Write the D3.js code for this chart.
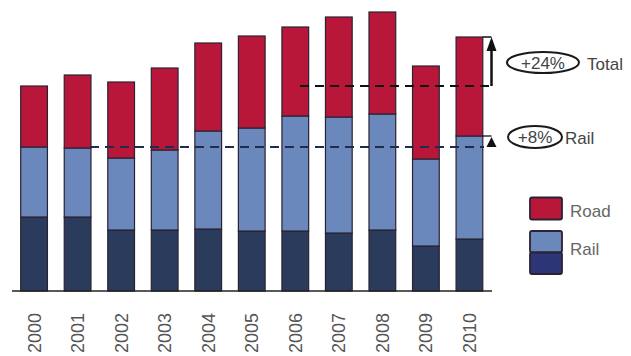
<!DOCTYPE html>
<html>
<head>
<meta charset="utf-8">
<script src="https://cdn.jsdelivr.net/npm/d3@7"></script>
<style>
  html, body { margin: 0; padding: 0; background: #fff; }
  svg { display: block; font-family: "Liberation Sans", Arial, sans-serif; }
</style>
</head>
<body>
<svg id="chart" width="631" height="356"></svg>
<script>
// Freight volumes by year, stacked: two rail components and road
const years     = ["2000","2001","2002","2003","2004","2005","2006","2007","2008","2009","2010"];
const railDark  = [74, 74, 61, 61, 62, 60, 60, 58, 61, 45, 52];
const railLight = [70, 69, 72, 80, 98, 103, 115, 116, 116, 87, 103];
const road      = [61, 73, 76, 82, 88, 92, 89, 100, 102, 93, 99];

const colors = { railDark: "#2b3b5c", railLight: "#6b88bd", road: "#b8173a" };
const strokeCol = "#2a2233";

const svg = d3.select("#chart");

const rows = years.map((y, i) => ({ year: y, railDark: railDark[i], railLight: railLight[i], road: road[i] }));
const keys = ["railDark", "railLight", "road"];
const series = d3.stack().keys(keys)(rows);

const x = d3.scaleBand().domain(years).range([12, 491.5]).paddingInner(0.386).paddingOuter(0.2);
const y = d3.scaleLinear().domain([0, 280]).range([291, 11]);

// stacked bars
svg.append("g").selectAll("g").data(series).join("g")
  .attr("fill", d => colors[d.key])
  .selectAll("rect").data(d => d).join("rect")
  .attr("x", d => x(d.data.year))
  .attr("width", x.bandwidth())
  .attr("y", d => y(d[1]))
  .attr("height", d => y(d[0]) - y(d[1]))
  .attr("stroke", strokeCol)
  .attr("stroke-width", 1.2);

// baseline
svg.append("line")
  .attr("x1", 12).attr("x2", 492)
  .attr("y1", y(0)).attr("y2", y(0))
  .attr("stroke", "#222").attr("stroke-width", 1.5);

// year labels, rotated
const xAxis = d3.axisBottom(x).tickSize(0).tickPadding(0);
const ax = svg.append("g").attr("transform", `translate(0,${y(0)})`).call(xAxis);
ax.select(".domain").remove();
ax.selectAll("text")
  .attr("transform", "rotate(-90)")
  .attr("x", -22).attr("y", 0).attr("dy", "0.36em")
  .attr("text-anchor", "end")
  .attr("fill", "#555")
  .style("font-size", "18px");

// reference levels and growth annotations
const n = years.length - 1;
const total = i => railDark[i] + railLight[i] + road[i];
const rail = i => railDark[i] + railLight[i];
const barRight = x(years[n]) + x.bandwidth();
const arrowX = 491.5;

// total: dashed level of first year and arrow up to last year
svg.append("line")
  .attr("x1", 300).attr("x2", arrowX)
  .attr("y1", y(total(0))).attr("y2", y(total(0)))
  .attr("stroke", "#111").attr("stroke-width", 1.8).attr("stroke-dasharray", "9,6");
svg.append("line")
  .attr("x1", barRight).attr("x2", arrowX)
  .attr("y1", y(total(n))).attr("y2", y(total(n)))
  .attr("stroke", "#111").attr("stroke-width", 1.5);
svg.append("line")
  .attr("x1", arrowX).attr("x2", arrowX)
  .attr("y1", y(total(0))).attr("y2", y(total(n)) + 6)
  .attr("stroke", "#111").attr("stroke-width", 2.5);
svg.append("path")
  .attr("d", `M${arrowX},${y(total(n))} L${arrowX - 5},${y(total(n)) + 14} L${arrowX + 5},${y(total(n)) + 14} Z`)
  .attr("fill", "#111");

// rail: dashed level of first year and arrow up to last year
svg.append("line")
  .attr("x1", 90).attr("x2", 484)
  .attr("y1", y(rail(0))).attr("y2", y(rail(0)))
  .attr("stroke", "#1e2c50").attr("stroke-width", 1.8).attr("stroke-dasharray", "9,6");
svg.append("line")
  .attr("x1", barRight).attr("x2", arrowX)
  .attr("y1", y(rail(n))).attr("y2", y(rail(n)))
  .attr("stroke", "#111").attr("stroke-width", 1.3);
svg.append("path")
  .attr("d", `M${arrowX},${y(rail(n)) + 1} L${arrowX - 5},${y(rail(0))} L${arrowX + 5},${y(rail(0))} Z`)
  .attr("fill", "#111");

const pct = (a, b) => "+" + Math.round((a / b - 1) * 100) + "%";

function bubble(cx, cy, rx, ry, label, name, nameX) {
  svg.append("ellipse")
    .attr("cx", cx).attr("cy", cy).attr("rx", rx).attr("ry", ry)
    .attr("fill", "#fff").attr("stroke", "#1a1a1a").attr("stroke-width", 2);
  svg.append("text")
    .attr("x", cx).attr("y", cy).attr("dy", "0.36em")
    .attr("text-anchor", "middle").attr("fill", "#444")
    .style("font-size", "17px").text(label);
  svg.append("text")
    .attr("x", nameX).attr("y", cy + 1).attr("dy", "0.36em")
    .attr("fill", "#444").style("font-size", "17px").text(name);
}
bubble(543, 62.5, 36, 10.5, pct(total(n), total(0)), "Total", 587);
bubble(535, 137, 27, 11, pct(rail(n), rail(0)), "Rail", 565);

// legend
const lg = svg.append("g");
lg.append("rect").attr("x", 530).attr("y", 197.5).attr("width", 32).attr("height", 22).attr("rx", 2)
  .attr("fill", colors.road).attr("stroke", strokeCol).attr("stroke-width", 1.8);
lg.append("rect").attr("x", 530).attr("y", 231).attr("width", 32).attr("height", 21.5).attr("rx", 2)
  .attr("fill", colors.railLight).attr("stroke", strokeCol).attr("stroke-width", 1.8);
lg.append("rect").attr("x", 530).attr("y", 252.5).attr("width", 32).attr("height", 21.5).attr("rx", 2)
  .attr("fill", "#2c3677").attr("stroke", strokeCol).attr("stroke-width", 1.8);
lg.append("text").attr("x", 570).attr("y", 210.5).attr("dy", "0.36em")
  .attr("fill", "#666").style("font-size", "17px").text("Road");
lg.append("text").attr("x", 570).attr("y", 249).attr("dy", "0.36em")
  .attr("fill", "#666").style("font-size", "17px").text("Rail");
</script>
</body>
</html>
